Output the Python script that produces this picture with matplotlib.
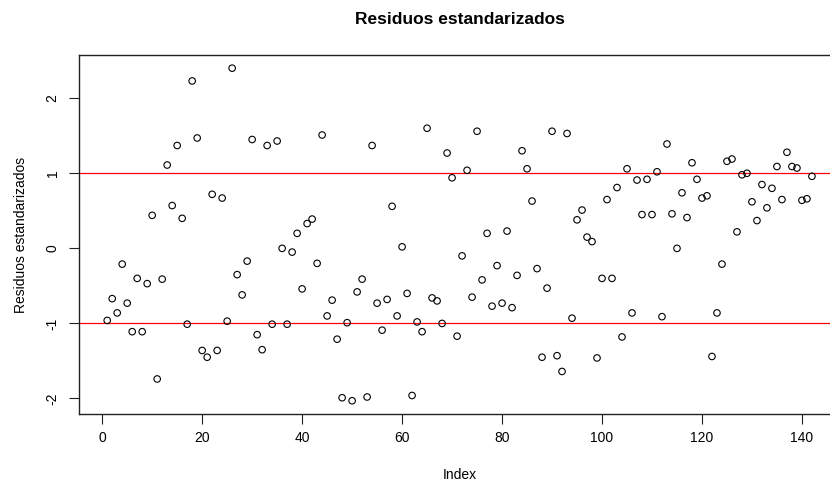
import matplotlib
matplotlib.use("Agg")
import matplotlib.pyplot as plt
import numpy as np

plt.rcParams['font.family'] = ['Liberation Sans', 'DejaVu Sans']

# residuos estandarizados, indice 1..142
residuos = [
    -0.96, -0.67, -0.86, -0.21, -0.73, -1.11, -0.40, -1.11, -0.47, 0.44,
    -1.74, -0.41, 1.11, 0.57, 1.37, 0.40, -1.01, 2.23, 1.47, -1.36,
    -1.45, 0.72, -1.36, 0.67, -0.97, 2.40, -0.35, -0.62, -0.17, 1.45,
    -1.15, -1.35, 1.37, -1.01, 1.43, 0.00, -1.01, -0.05, 0.20, -0.54,
    0.33, 0.39, -0.20, 1.51, -0.90, -0.69, -1.21, -1.99, -0.99, -2.03,
    -0.58, -0.41, -1.98, 1.37, -0.73, -1.09, -0.68, 0.56, -0.90, 0.02,
    -0.60, -1.96, -0.98, -1.11, 1.60, -0.66, -0.70, -1.00, 1.27, 0.94,
    -1.17, -0.10, 1.04, -0.65, 1.56, -0.42, 0.20, -0.77, -0.23, -0.73,
    0.23, -0.79, -0.36, 1.30, 1.06, 0.63, -0.27, -1.45, -0.53, 1.56,
    -1.43, -1.64, 1.53, -0.93, 0.38, 0.51, 0.15, 0.09, -1.46, -0.40,
    0.65, -0.40, 0.81, -1.18, 1.06, -0.86, 0.91, 0.45, 0.92, 0.45,
    1.02, -0.91, 1.39, 0.46, 0.00, 0.74, 0.41, 1.14, 0.92, 0.67,
    0.70, -1.44, -0.86, -0.21, 1.16, 1.19, 0.22, 0.98, 1.00, 0.62,
    0.37, 0.85, 0.54, 0.80, 1.09, 0.65, 1.28, 1.09, 1.07, 0.64,
    0.66, 0.96,
]
limites = [-1, 1]
x_ticks = [0, 20, 40, 60, 80, 100, 120, 140]
y_ticks = [-2, -1, 0, 1, 2]

y = np.array(residuos)
idx = np.arange(1, len(y) + 1)

fig = plt.figure(figsize=(8.3, 4.9), dpi=100)
ax = fig.add_axes([0.0952, 0.155, 0.917, 0.733])

ax.scatter(idx, y, s=22, facecolors='none', edgecolors='black', linewidths=0.8, zorder=3)
for h in limites:
    ax.axhline(h, color='#ff0000', lw=0.9, zorder=2)

# rangos al estilo de R (4% extra)
dx = (idx.max() - idx.min()) * 0.04
dy = (y.max() - y.min()) * 0.04
ax.set_xlim(idx.min() - dx, idx.max() + dx)
ax.set_ylim(y.min() - dy, y.max() + dy)

ax.set_xticks(x_ticks)
ax.set_yticks(y_ticks)
ax.set_yticklabels([str(t) for t in y_ticks], rotation=90, va='center')
ax.tick_params(axis='both', length=7, width=0.8, labelsize=10, color='#222222')
ax.tick_params(axis='x', pad=5)
ax.tick_params(axis='y', pad=7)
for s in ax.spines.values():
    s.set_linewidth(1.0)
    s.set_color('#222222')
# el borde derecho queda fuera de la imagen (recortada)
ax.spines['right'].set_visible(False)

ax.set_xlabel('Index', fontsize=10, labelpad=17)
ax.set_ylabel('Residuos estandarizados', fontsize=10, labelpad=13)
ax.set_title('Residuos estandarizados', fontsize=12.5, fontweight='bold', pad=22)

fig.savefig('out.png', dpi=100)
